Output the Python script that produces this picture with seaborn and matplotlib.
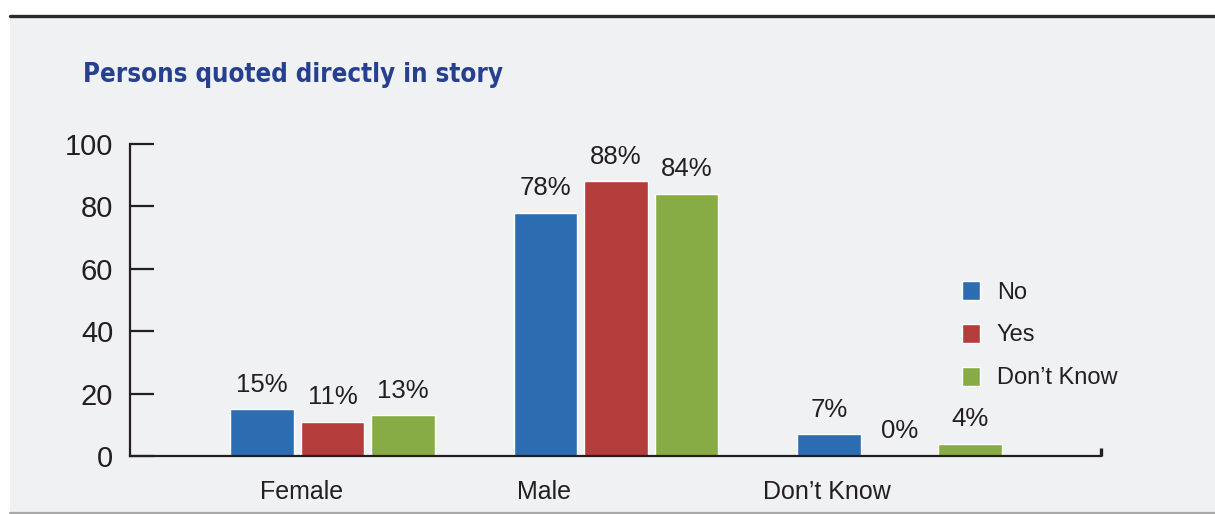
import matplotlib
matplotlib.use("Agg")
import matplotlib.pyplot as plt
from matplotlib.patches import Rectangle
from matplotlib.lines import Line2D
import seaborn as sns
import pandas as pd

# Data: share of persons quoted directly in story, by gender and response
categories = ["Female", "Male", "Don\u2019t Know"]
responses = ["No", "Yes", "Don\u2019t Know"]
no_values = [15, 78, 7]
yes_values = [11, 88, 0]
dont_know_values = [13, 84, 4]
y_ticks = [0, 20, 40, 60, 80, 100]
title_text = "Persons quoted directly in story"

colors = ["#2c6db2", "#b43c3b", "#87ac45"]
ink = "#231f20"
panel_color = "#f0f1f3"

rows = []
for resp, vals in zip(responses, [no_values, yes_values, dont_know_values]):
    for cat, v in zip(categories, vals):
        rows.append({"category": cat, "response": resp, "value": v})
df = pd.DataFrame(rows)

sns.set_theme(style="white")
plt.rcParams["font.family"] = ["Liberation Sans", "DejaVu Sans"]

W, H = 1215, 514
fig = plt.figure(figsize=(W / 100, H / 100), dpi=100)
fig.patch.set_facecolor("white")

# light grey panel with dark rule on top and grey rule at the bottom
fig.patches.append(Rectangle((10 / W, 0), 1 - 10 / W, 1 - 16 / H,
                             transform=fig.transFigure, facecolor=panel_color,
                             edgecolor="none", zorder=-5))
fig.lines.append(Line2D([10 / W, 1], [1 - 15.5 / H, 1 - 15.5 / H],
                        transform=fig.transFigure, color="#2a2a2a", lw=2.4))
fig.lines.append(Line2D([10 / W, 1], [1 - 512.5 / H, 1 - 512.5 / H],
                        transform=fig.transFigure, color="#a8a8a8", lw=1.6))

ax = fig.add_axes([130 / W, 1 - 456 / H, (1101 - 130) / W, (456 - 144) / H])
ax.set_facecolor("none")
ax.set_zorder(2)

sns.barplot(data=df, x="category", y="value", hue="response",
            order=categories, hue_order=responses, palette=colors,
            width=0.747, gap=0.1, saturation=1, ax=ax, legend=True)

ax.set_xlim(-0.714, 2.711)
ax.set_ylim(0, 100)
ax.set_yticks(y_ticks)
ax.set_xlabel("")
ax.set_ylabel("")

# value labels above each bar
for container, vals in zip(ax.containers, [no_values, yes_values, dont_know_values]):
    ax.bar_label(container, labels=[f"{v}%" for v in vals], padding=9,
                 fontsize=18.5, color=ink)

# axis styling
for side in ["top", "right"]:
    ax.spines[side].set_visible(False)
for side in ["left", "bottom"]:
    ax.spines[side].set_color(ink)
    ax.spines[side].set_linewidth(1.6)
ax.tick_params(axis="y", left=True, direction="in", length=17.5, width=1.6,
               color=ink, labelsize=21, labelcolor=ink, pad=12)
# category labels sit slightly left of each group
label_offsets = [-0.108, -0.254, -0.256]
ax.set_xticks([i + o for i, o in enumerate(label_offsets)])
ax.set_xticklabels(categories)
ax.tick_params(axis="x", bottom=False, length=0, labelsize=18, labelcolor=ink,
               pad=17)
ax.plot([1, 1], [0, 0.026], transform=ax.transAxes, color=ink, lw=2.4,
        clip_on=False, solid_capstyle="butt")

# legend
handles, labels = ax.get_legend_handles_labels()
ax.legend(handles, labels, loc="upper left",
          bbox_to_anchor=(962 / W, 1 - 281 / H), bbox_transform=fig.transFigure,
          frameon=False, fontsize=17, handlelength=0.76, handleheight=0.85,
          handletextpad=0.72, labelspacing=0.86, borderpad=0, borderaxespad=0,
          labelcolor=ink)

fig.text(83 / W, 1 - 82 / H, title_text, ha="left", va="baseline",
         fontsize=18.5, fontweight="bold", fontstretch="condensed",
         color="#263f8f", family=["DejaVu Sans"])

fig.savefig("out.png", dpi=100, facecolor="white")
